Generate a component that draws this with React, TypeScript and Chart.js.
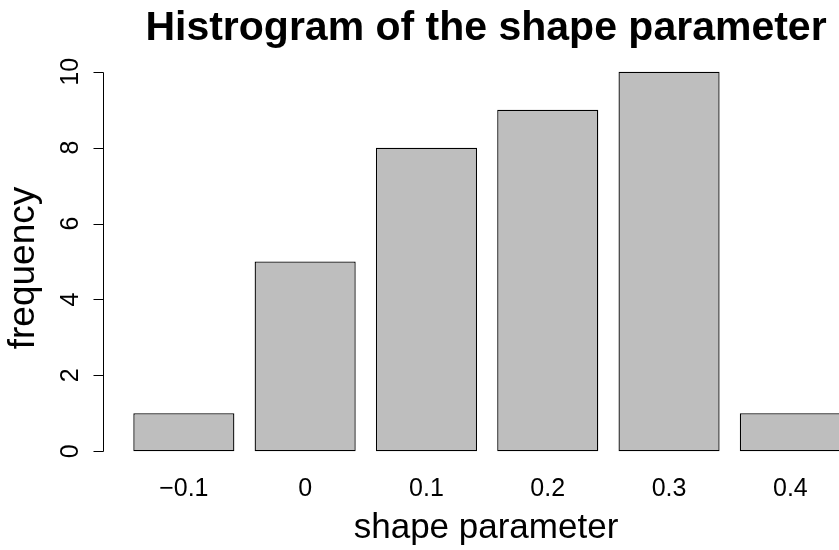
import React, { useEffect, useRef } from "react";
import { Chart, registerables } from "chart.js";

Chart.register(...registerables);

const categories = ["\u22120.1", "0", "0.1", "0.2", "0.3", "0.4"];
const frequencies = [1, 5, 8, 9, 10, 1];
const yTicks = [0, 2, 4, 6, 8, 10];
const titleText = "Histrogram of the shape parameter";
const xTitle = "shape parameter";
const yTitle = "frequency";

const FONT = "'Liberation Sans', Arial, Helvetica, sans-serif";

const rPlot = {
  id: "rPlot",
  afterDraw(chart: any) {
    const ctx = chart.ctx;
    const xs = chart.scales.x;
    const ys = chart.scales.y;
    ctx.save();
    ctx.fillStyle = "#000";
    ctx.strokeStyle = "#000";
    ctx.lineWidth = 1;

    // y axis line + ticks
    const axX = 103.5;
    const y0 = ys.getPixelForValue(yTicks[0]);
    const y1 = ys.getPixelForValue(yTicks[yTicks.length - 1]);
    ctx.beginPath();
    ctx.moveTo(axX, Math.round(y0) + 0.5);
    ctx.lineTo(axX, Math.round(y1) + 0.5);
    for (const t of yTicks) {
      const py = Math.round(ys.getPixelForValue(t)) + 0.5;
      ctx.moveTo(axX, py);
      ctx.lineTo(axX - 10, py);
    }
    ctx.stroke();

    // y tick labels (rotated)
    ctx.font = `25px ${FONT}`;
    ctx.textAlign = "center";
    ctx.textBaseline = "middle";
    for (const t of yTicks) {
      const py = ys.getPixelForValue(t);
      ctx.save();
      ctx.translate(71, py);
      ctx.rotate(-Math.PI / 2);
      ctx.fillText(String(t), 0, 0);
      ctx.restore();
    }

    // x category labels
    categories.forEach((c, i) => {
      const px = xs.getPixelForValue(i);
      ctx.fillText(c, px, 489);
    });

    // axis titles
    ctx.font = `35px ${FONT}`;
    ctx.fillText(xTitle, 486, 528);
    ctx.save();
    ctx.translate(24, 268);
    ctx.rotate(-Math.PI / 2);
    ctx.font = `37px ${FONT}`;
    ctx.fillText(yTitle, 0, 0);
    ctx.restore();

    // main title
    ctx.font = `bold 41px ${FONT}`;
    ctx.textBaseline = "alphabetic";
    ctx.fillText(titleText, 486, 40);
    ctx.restore();
  },
};

export default function App() {
  const ref = useRef<HTMLCanvasElement | null>(null);
  useEffect(() => {
    if (!ref.current) return;
    const chart = new Chart(ref.current, {
      type: "bar",
      data: {
        labels: categories,
        datasets: [
          {
            data: frequencies,
            backgroundColor: "#BEBEBE",
            borderColor: "#000000",
            borderWidth: 1.3,
            borderSkipped: false,
            categoryPercentage: 1,
            barPercentage: 1 / 1.2,
          },
        ],
      },
      options: {
        responsive: false,
        animation: false,
        devicePixelRatio: 1,
        layout: { padding: { left: 123.2, right: 19, top: 56.6, bottom: 83.6 } },
        plugins: { legend: { display: false }, tooltip: { enabled: false }, title: { display: false } },
        scales: {
          x: { type: "category", display: false, offset: true, grid: { display: false } },
          y: { type: "linear", display: false, min: -0.4, max: 10.4 },
        },
      },
      plugins: [rPlot],
    });
    return () => chart.destroy();
  }, []);
  return (
    <div style={{ position: "fixed", left: 0, top: 0, width: 839, height: 550, overflow: "hidden", background: "#fff" }}>
      <canvas ref={ref} width={870} height={550} style={{ display: "block", width: 870, height: 550 }} />
    </div>
  );
}
